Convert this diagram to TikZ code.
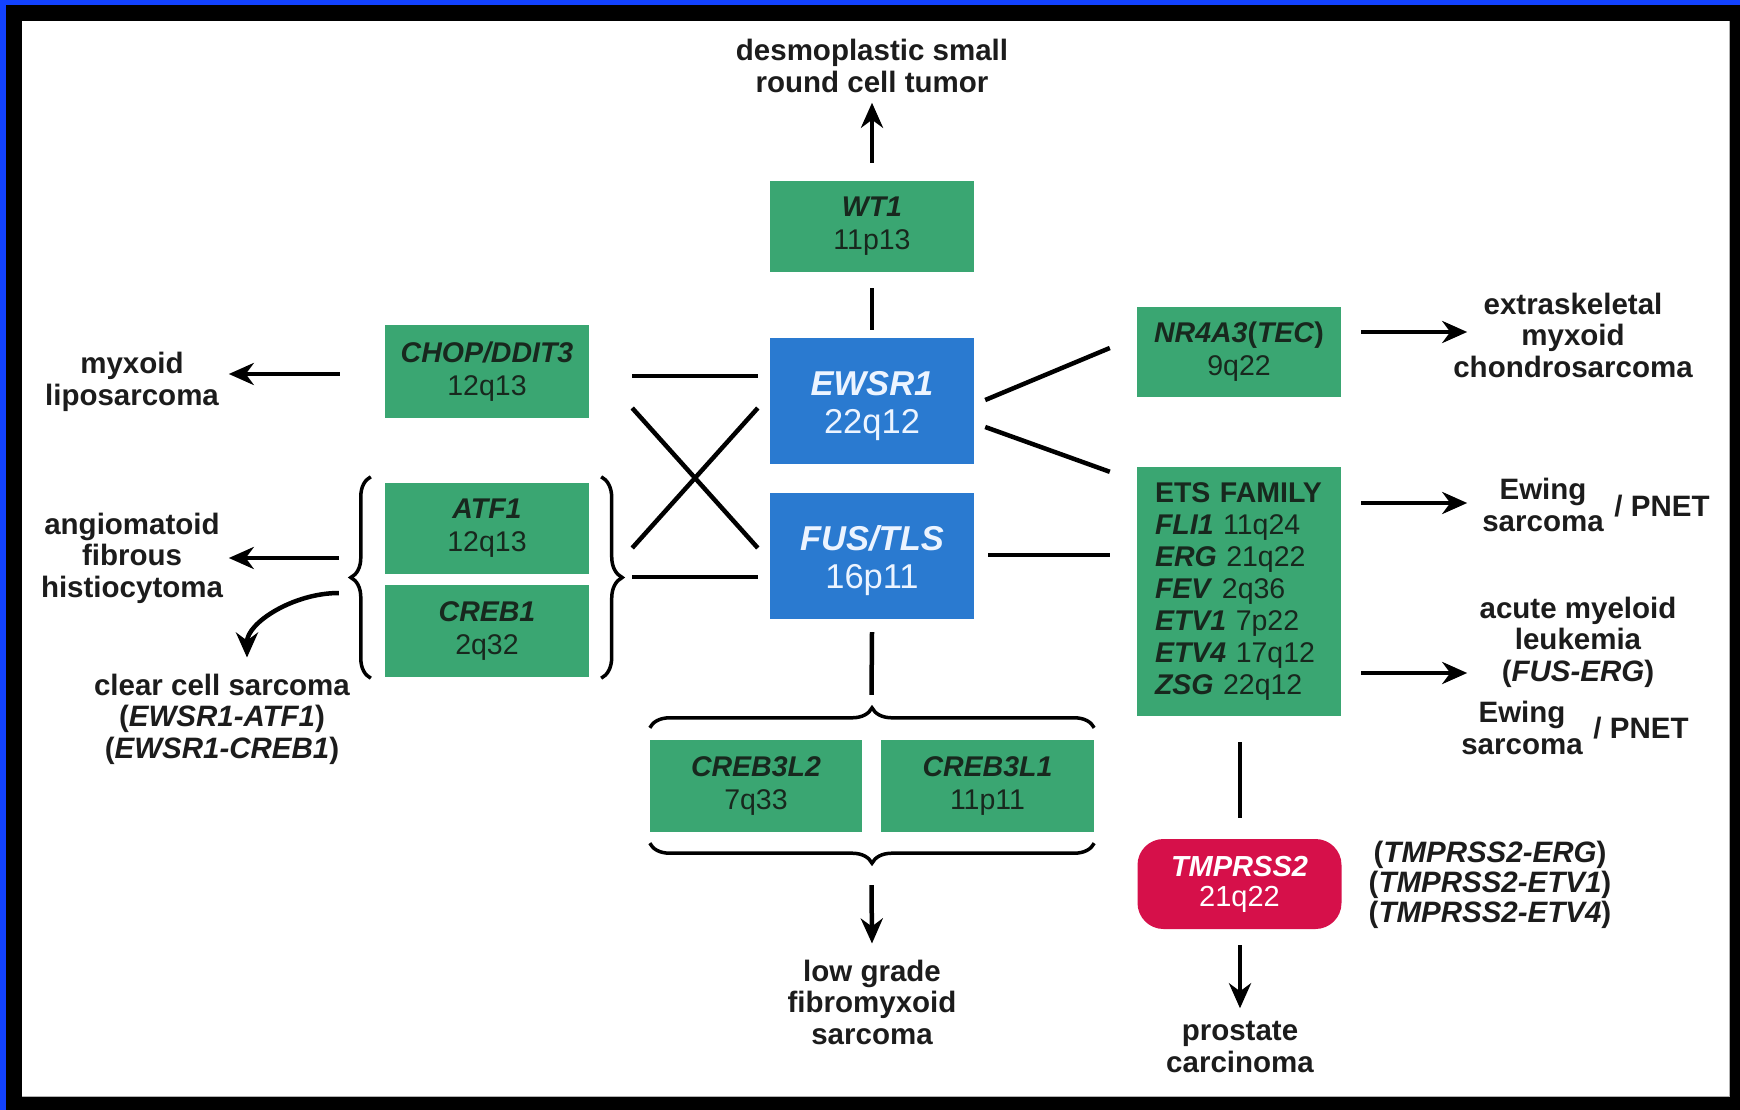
\documentclass[tikz,border=0pt]{standalone}
\usepackage{fontspec}
\setmainfont{Liberation Sans}
\usetikzlibrary{arrows.meta,calc,decorations.pathreplacing}

\definecolor{genegreen}{RGB}{58,166,114}
\definecolor{hubblue}{RGB}{42,122,208}
\definecolor{tmpred}{RGB}{214,16,74}
\definecolor{genetext}{RGB}{24,40,30}
\definecolor{hubtext}{RGB}{236,244,255}
\definecolor{labeltext}{RGB}{28,28,28}
\definecolor{edgeblue}{RGB}{18,66,255}

\tikzset{
  gene/.style={rectangle,fill=genegreen,text=genetext,inner sep=0pt,align=center,
    minimum width=204pt,minimum height=91pt,font=\fontsize{28.5}{33}\selectfont},
  hub/.style={rectangle,fill=hubblue,text=hubtext,inner sep=0pt,align=center,
    minimum width=204pt,minimum height=126pt,font=\fontsize{34.5}{38}\selectfont},
  partner/.style={rectangle,rounded corners=26pt,fill=tmpred,text=white,inner sep=0pt,
    align=center,minimum width=204pt,minimum height=90pt,font=\fontsize{29}{30}\selectfont},
  tumor/.style={text=labeltext,align=center,inner sep=0pt,
    font=\fontsize{29.5}{31.5}\selectfont\bfseries},
  link/.style={line width=4.5pt},
  arr/.style={line width=4.5pt,-{Stealth[length=25pt,width=22pt,inset=8pt]}},
  bracket/.style={line width=3.5pt,decorate,decoration={brace,amplitude=#1}},
  bracket/.default=20pt
}
\newcommand{\gn}[1]{\textbf{\textit{#1}}}
% taller first line pushes the hub text down a little
\newcommand{\hubstrut}{\rule{0pt}{34pt}}

\begin{document}
\begin{tikzpicture}[x=1pt,y=-1pt]
  \useasboundingbox (0,0) rectangle (1740,1110);
  % frame
  \fill[black] (0,0) rectangle (1740,1110);
  \fill[edgeblue] (0,0) rectangle (1740,5);
  \fill[edgeblue] (0,0) rectangle (6,1110);
  \fill[white] (22,21) rectangle (1729,1096);
  \draw[gray!60,line width=1pt] (22,1096) -- (1729,1096) -- (1729,21);

  % partners
  \node[hub] (ewsr) at (872,401) {\hubstrut\gn{EWSR1}\\22q12};
  \node[hub] (fus) at (872,556) {\hubstrut\gn{FUS/TLS}\\16p11};
  \node[gene] (wt1) at (872,226.5) {\gn{WT1}\\11p13};
  \node[gene,minimum height=93pt] (chop) at (487,371.5) {\gn{CHOP/DDIT3}\\12q13};
  \node[gene] (atf1) at (487,528.5) {\gn{ATF1}\\12q13};
  \node[gene,minimum height=92pt] (creb1) at (487,631) {\gn{CREB1}\\2q32};
  \node[gene,minimum width=212pt,minimum height=92pt] (creb3l2) at (756,786) {\gn{CREB3L2}\\7q33};
  \node[gene,minimum width=213pt,minimum height=92pt] (creb3l1) at (987.5,786) {\gn{CREB3L1}\\11p11};
  \node[gene,minimum height=90pt] (nr4a3) at (1239,351.5) {\gn{NR4A3}\textbf{(}\gn{TEC}\textbf{)}\\9q22};
  \node[gene,minimum height=249pt,text width=168pt,align=left,
    font=\fontsize{28.5}{32}\selectfont] (ets) at (1239,591.5)
    {\textbf{ETS FAMILY}\\\gn{FLI1} 11q24\\\gn{ERG} 21q22\\\gn{FEV} 2q36\\
     \gn{ETV1} 7p22\\\gn{ETV4} 17q12\\\gn{ZSG} 22q12};
  \node[partner] (tmp) at (1239.5,884) {\gn{TMPRSS2}\\21q22};

  % tumours
  \node[tumor] (desmo) at (872,66) {desmoplastic small\\round cell tumor};
  \node[tumor] (myxo) at (132,382) {myxoid\\liposarcoma};
  \node[tumor] (angio) at (132,558) {angiomatoid\\fibrous\\histiocytoma};
  \node[tumor] (ccs) at (222,719) {clear cell sarcoma\\(\textit{EWSR1-ATF1})\\(\textit{EWSR1-CREB1})};
  \node[tumor] (lgfms) at (872,1002) {low grade\\fibromyxoid\\sarcoma};
  \node[tumor] (emc) at (1573,335) {extraskeletal\\myxoid\\chondrosarcoma};
  \node[tumor] (ewing) at (1543,505) {Ewing\\sarcoma};
  \node[tumor] (pnet) at (1662,506) {/ PNET};
  \node[tumor] (aml) at (1578,642) {acute myeloid\\leukemia\\(\textit{FUS-ERG})};
  \node[tumor] (ewingb) at (1522,728) {Ewing\\sarcoma};
  \node[tumor] (pnetb) at (1641,728) {/ PNET};
  \node[tumor,font=\fontsize{29.5}{30}\selectfont\bfseries] (fusions) at (1490,885)
    {(\textit{TMPRSS2-ERG})\\(\textit{TMPRSS2-ETV1})\\(\textit{TMPRSS2-ETV4})};
  \node[tumor] (prostate) at (1240,1047) {prostate\\carcinoma};

  % braces
  \draw[bracket] ($(creb1.south west)+(-14,1)$) -- ($(atf1.north west)+(-14,-6)$);
  \draw[bracket=21pt] ($(atf1.north east)+(12,-6)$) -- ($(creb1.south east)+(12,1)$);
  \draw[bracket] ($(creb3l2.north west)+(0,-12)$) -- ($(creb3l1.north east)+(0,-12)$);
  \draw[bracket] ($(creb3l1.south east)+(0,11)$) -- ($(creb3l2.south west)+(0,11)$);
  \coordinate (lbr) at ($(atf1.north west)!0.5!(creb1.south west)+(-34,0)$);
  \coordinate (topbr) at ($(creb3l2.north east)!0.5!(creb3l1.north west)+(0,-32)$);
  \coordinate (botbr) at ($(creb3l2.south east)!0.5!(creb3l1.south west)+(0,33)$);

  % links to EWSR1 and FUS
  \draw[link] ($(wt1.south)+(0,16)$) -- ($(ewsr.north)+(0,-8)$);
  \draw[link] ($(chop.east)+(43,4.5)$) -- ($(ewsr.west)+(-12,-25)$);
  \draw[link] ($(chop.east)+(43,36.5)$) -- ($(fus.west)+(-12,-8)$);
  \draw[link] ($(atf1.east)+(43,19.5)$) -- ($(ewsr.west)+(-12,7)$);
  \draw[link] ($(atf1.east)+(43,48.5)$) -- ($(fus.west)+(-12,21)$);
  \draw[link] ($(ewsr.east)+(11,-1)$) -- ($(nr4a3.west)+(-27,-3.5)$);
  \draw[link] ($(ewsr.east)+(11,26)$) -- ($(ets.north west)+(-27,5)$);
  \draw[link] ($(fus.east)+(14,-1)$) -- ($(ets.west)+(-27,-36.5)$);
  \draw[link] ($(fus.south)+(0,13)$) -- ($(topbr)+(0,-13)$);
  \draw[link] ($(ets.south)+(1,26)$) -- ($(tmp.north)+(0.5,-21)$);

  % outcomes
  \draw[arr] ($(wt1.north)+(0,-18)$) -- ($(desmo.south)+(0,10)$);
  \draw[arr] ($(chop.west)+(-45,2.5)$) -- ++(-111,0);
  \draw[arr] ($(lbr)+(-12,-22)$) -- ++(-110,0);
  \draw[arr] ($(lbr)+(-12,13)$) .. controls +(-45,0) and +(0,-35) .. ($(ccs.north)+(25,-16)$);
  \draw[arr] ($(botbr)+(0,20)$) -- ($(lgfms.north)+(0,-16)$);
  \foreach \src/\dy in {nr4a3/-19.5,ets/-88.5,ets/81.5}
    \draw[arr] ($(\src.east)+(20,\dy)$) -- ++(106,0);
  \draw[arr] ($(tmp.south)+(0.5,16)$) -- ($(prostate.north)+(0,-13)$);
\end{tikzpicture}
\end{document}
